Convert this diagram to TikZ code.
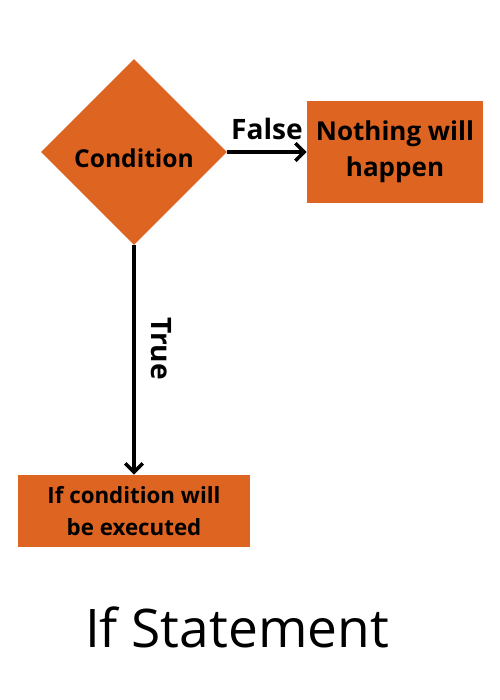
\documentclass[tikz,border=0pt]{standalone}
\usepackage{fontspec}
\setmainfont{Open Sans}
\usetikzlibrary{shapes.geometric,arrows.meta}

\definecolor{flowfill}{RGB}{222,100,34}
\tikzset{
  flowdiamond/.style={diamond,fill=flowfill,inner sep=0pt,minimum width=3.72cm,minimum height=3.72cm,font=\bfseries\fontsize{14}{17}\selectfont},
  flowbox/.style={rectangle,fill=flowfill,inner sep=0pt,align=center},
  flowarrow/.style={-{Straight Barb[length=5pt,width=10pt]},line width=2pt},
  flowlabel/.style={font=\bfseries\fontsize{16}{19}\selectfont}
}

\begin{document}
\begin{tikzpicture}[x=0.02cm,y=0.02cm]
\useasboundingbox (0,0) rectangle (500,700);

\path (134,548) node[flowdiamond,text height=0.63cm,text depth=0pt] (cond) {Condition};

\path (395,548) node[flowbox,minimum width=3.52cm,minimum height=2.04cm,
  font=\bfseries\fontsize{14.8}{20.5}\selectfont] (nothing) {Nothing will\\happen};
\draw[flowarrow] (cond.east) -- node[flowlabel,above,inner sep=6pt]{False} (nothing.west);

\path (134,189) node[flowbox,minimum width=4.64cm,minimum height=1.44cm,
  font=\bfseries\fontsize{12.7}{18}\selectfont] (exec) {If condition will\\be executed};
\draw[flowarrow] (cond.south) -- node[flowlabel,pos=0.45,anchor=south,rotate=-90,inner sep=9pt]{True} (exec.north);

\path (237,73) node[font=\fontsize{30.3}{35}\selectfont] (title) {If Statement};
\end{tikzpicture}
\end{document}
